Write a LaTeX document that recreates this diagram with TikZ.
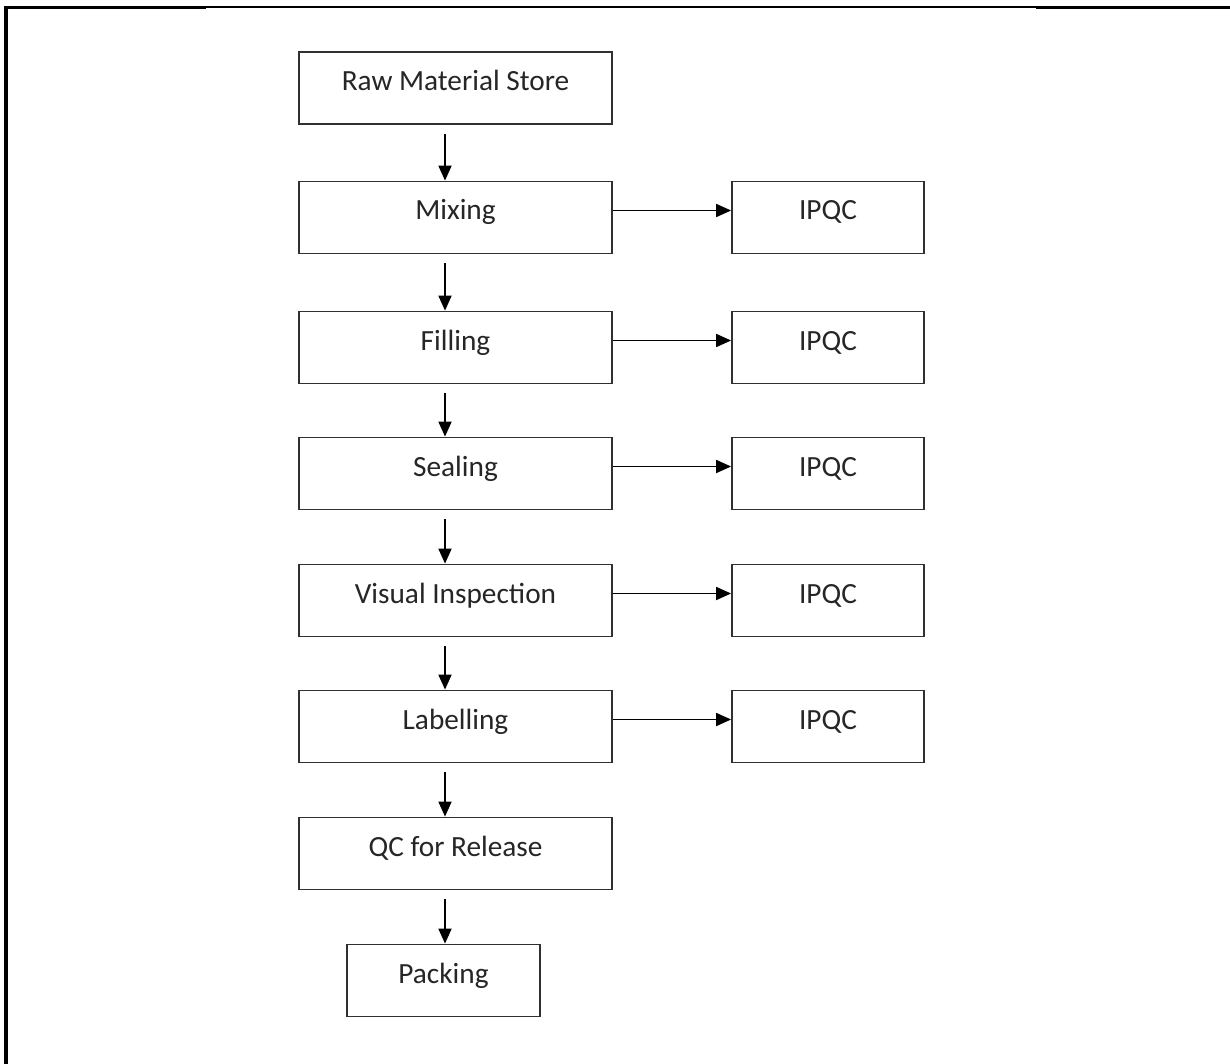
\documentclass[tikz,border=0pt]{standalone}
\usepackage{fontspec}
\setmainfont{Carlito}
\usetikzlibrary{arrows.meta}
\definecolor{boxline}{HTML}{303030}
\definecolor{txt}{HTML}{262626}
\begin{document}
\begin{tikzpicture}[x=1pt,y=-1pt,
  box/.style={draw=boxline, line width=1.8pt, minimum height=72pt, inner sep=0pt,
    font=\fontsize{29.3}{32}\selectfont, text=txt, text height=21pt, text depth=16pt},
  mainbox/.style={box, minimum width=313pt},
  qcbox/.style={box, minimum width=192pt},
  arr/.style={line width=1.8pt, draw=black, -{Triangle[length=15pt,width=13pt]}},
  frameThick/.style={line width=3.4pt, draw=black},
  frameThin/.style={line width=2pt, draw=black}]
\useasboundingbox[fill=white] (0,0) rectangle (1230,1064);
% page frame
\coordinate (fc) at (6,7.5);
\coordinate (fa) at (206,7.5);
\coordinate (fb) at (1036,7.5);
\coordinate (fr) at (1230,7.5);
\coordinate (fbot) at (6,1064);
\draw[frameThick] (fbot) -- ([yshift=1.7pt]fc);
\draw[frameThick] ([xshift=-1.7pt]fc) -- (fa);
\draw[frameThin] (fa) -- (fb);
\draw[frameThick] (fb) -- (fr);
% main boxes
\node[mainbox] (raw)  at (455.5,88)    {Raw Material Store};
\node[mainbox] (mix)  at (455.5,217.5) {Mixing};
\node[mainbox] (fill) at (455.5,347.5) {Filling};
\node[mainbox] (seal) at (455.5,473.5) {Sealing};
\node[mainbox] (vis)  at (455.5,600.5) {Visual Inspection};
\node[mainbox] (lab)  at (455.5,726.5) {Labelling};
\node[mainbox] (qc)   at (455.5,853.5) {QC for Release};
\node[box, minimum width=193pt] (pack) at (443.5,980.5) {Packing};
% IPQC boxes
\node[qcbox] (q1) at (828,217.5) {IPQC};
\node[qcbox] (q2) at (828,347.5) {IPQC};
\node[qcbox] (q3) at (828,473.5) {IPQC};
\node[qcbox] (q4) at (828,600.5) {IPQC};
\node[qcbox] (q5) at (828,726.5) {IPQC};
% vertical arrows
\draw[arr] ([xshift=-10.5pt,yshift=-9pt]raw.south)  -- ([xshift=-10.5pt]mix.north);
\draw[arr] ([xshift=-10.5pt,yshift=-9pt]mix.south)  -- ([xshift=-10.5pt]fill.north);
\draw[arr] ([xshift=-10.5pt,yshift=-9pt]fill.south) -- ([xshift=-10.5pt]seal.north);
\draw[arr] ([xshift=-10.5pt,yshift=-9pt]seal.south) -- ([xshift=-10.5pt]vis.north);
\draw[arr] ([xshift=-10.5pt,yshift=-9pt]vis.south)  -- ([xshift=-10.5pt]lab.north);
\draw[arr] ([xshift=-10.5pt,yshift=-9pt]lab.south)  -- ([xshift=-10.5pt]qc.north);
\draw[arr] ([xshift=-10.5pt,yshift=-9pt]qc.south)   -- ([xshift=-10.5pt]qc.south |- pack.north);
% horizontal arrows
\draw[arr] ([yshift=7pt]mix.east)  -- ([yshift=7pt]mix.east -| q1.west);
\draw[arr] ([yshift=7pt]fill.east) -- ([yshift=7pt]fill.east -| q2.west);
\draw[arr] ([yshift=7pt]seal.east) -- ([yshift=7pt]seal.east -| q3.west);
\draw[arr] ([yshift=7pt]vis.east)  -- ([yshift=7pt]vis.east -| q4.west);
\draw[arr] ([yshift=7pt]lab.east)  -- ([yshift=7pt]lab.east -| q5.west);
\end{tikzpicture}
\end{document}
